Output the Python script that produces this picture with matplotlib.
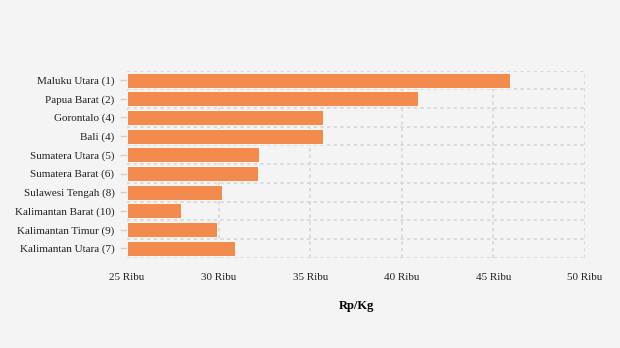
import numpy as np
import matplotlib
matplotlib.use("Agg")
import matplotlib.pyplot as plt
from matplotlib.ticker import FixedLocator

# data (top to bottom as shown)
provinces = ["Maluku Utara (1)", "Papua Barat (2)", "Gorontalo (4)", "Bali (4)",
             "Sumatera Utara (5)", "Sumatera Barat (6)", "Sulawesi Tengah (8)",
             "Kalimantan Barat (10)", "Kalimantan Timur (9)", "Kalimantan Utara (7)"]
prices = [45900, 40900, 35700, 35700, 32200, 32150, 30200, 27950, 29900, 30900]
x_ticks = [25000, 30000, 35000, 40000, 45000, 50000]
x_tick_labels = ["25 Ribu", "30 Ribu", "35 Ribu", "40 Ribu", "45 Ribu", "50 Ribu"]

BG = "#f4f4f4"
BAR = "#f48b4e"
GRID = "#d6d6d6"

plt.rcParams["font.family"] = ["Liberation Serif", "DejaVu Serif"]

fig = plt.figure(figsize=(6.2, 3.48), dpi=100, facecolor=BG)
ax = fig.add_axes([127 / 620, 1 - 257.7 / 348, (585 - 127) / 620, (257.7 - 70.7) / 348])
ax.set_facecolor(BG)

y = np.arange(len(provinces))
ax.barh(y, [p - x_ticks[0] for p in prices], left=x_ticks[0], height=0.8,
        color=BAR, edgecolor="white", linewidth=0.6, zorder=3)

ax.set_xlim(x_ticks[0], x_ticks[-1])
ax.set_ylim(len(provinces) - 0.5, -0.5)

ax.set_xticks(x_ticks)
ax.set_xticklabels(x_tick_labels, fontsize=8, color="#222222")
ax.tick_params(axis="x", length=0, pad=11)

ax.set_yticks(y)
ax.set_yticklabels(provinces, fontsize=8, color="#222222")
ax.tick_params(axis="y", length=5, color="#d0d0d0", width=1, pad=4)
ax.yaxis.set_minor_locator(FixedLocator(np.arange(-0.5, len(provinces), 1.0)))
ax.tick_params(axis="y", which="minor", length=0)

ax.grid(axis="x", which="major", color=GRID, linestyle=(0, (2, 2)), linewidth=1.2, zorder=0)
ax.grid(axis="y", which="minor", color=GRID, linestyle=(0, (2, 2)), linewidth=1.2, zorder=0)
ax.grid(axis="y", which="major", visible=False)

for s in ax.spines.values():
    s.set_visible(False)

ax.set_xlabel("Rp/Kg", fontsize=9, fontweight="bold", labelpad=13)

fig.savefig("out.png", dpi=100, facecolor=BG)
